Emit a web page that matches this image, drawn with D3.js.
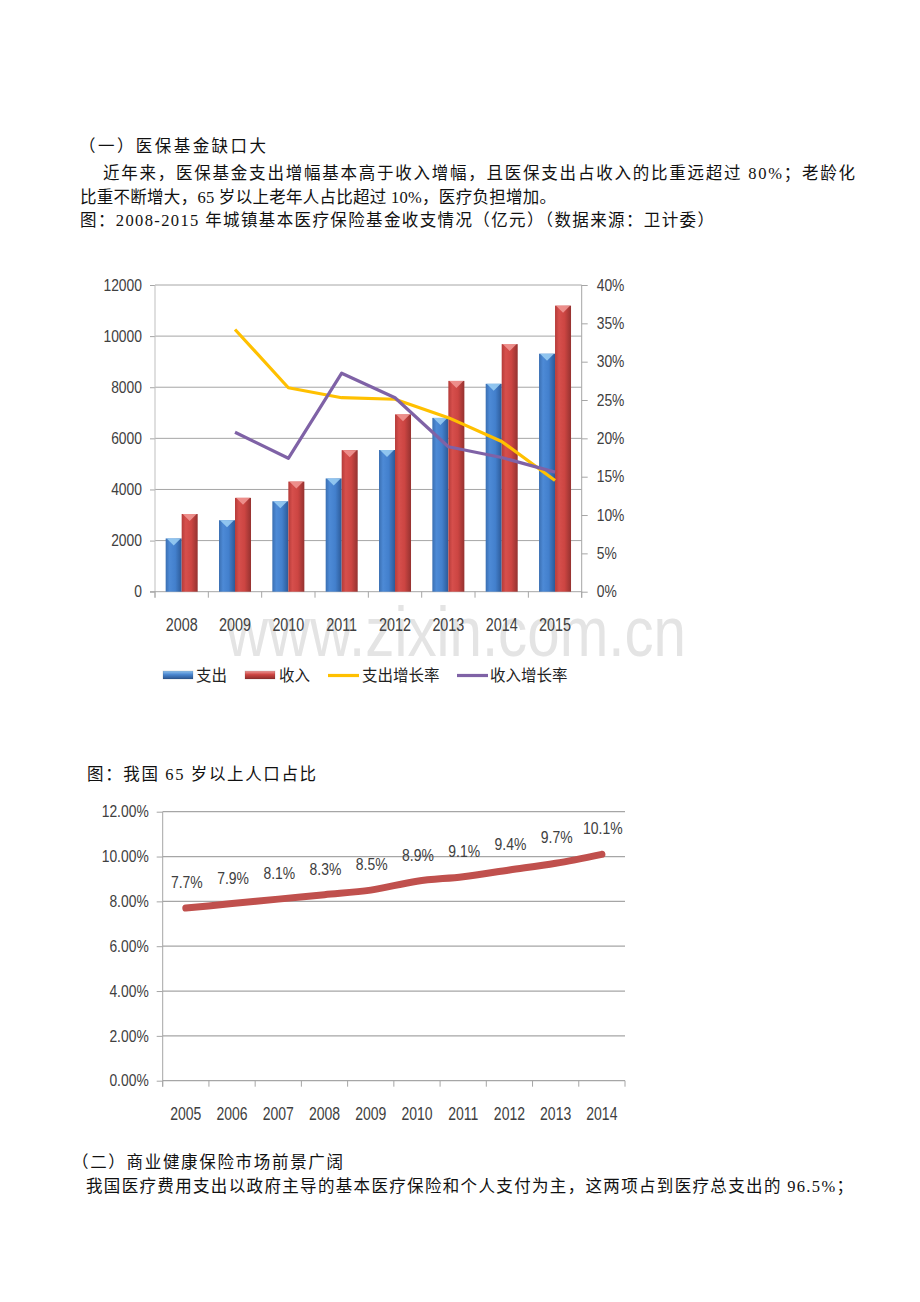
<!DOCTYPE html>
<html>
<head>
<meta charset="utf-8">
<script src="https://cdn.jsdelivr.net/npm/d3@7/dist/d3.min.js"></script>
<style>
  html, body { margin: 0; padding: 0; background: #fff; }
  svg { display: block; }
</style>
</head>
<body>
<svg id="page" width="920" height="1302"></svg>
<script>
// ---------------- DATA ----------------
const years1 = ["2008", "2009", "2010", "2011", "2012", "2013", "2014", "2015"];
const expenditure = [2084, 2797, 3538, 4431, 5544, 6801, 8134, 9312];      // 支出 (亿元)
const income = [3040, 3672, 4309, 5539, 6939, 8248, 9687, 11193];          // 收入 (亿元)
const expGrowth = [null, 34.2, 26.6, 25.3, 25.1, 22.7, 19.6, 14.5];          // 支出增长率 %
const incGrowth = [null, 20.8, 17.4, 28.5, 25.3, 18.9, 17.5, 15.6];          // 收入增长率 %
const leftTicks1 = [0, 2000, 4000, 6000, 8000, 10000, 12000];
const rightTicks1 = [0, 5, 10, 15, 20, 25, 30, 35, 40];
const legend1 = ["支出", "收入", "支出增长率", "收入增长率"];

const years2 = ["2005", "2006", "2007", "2008", "2009", "2010", "2011", "2012", "2013", "2014"];
const elderShare = [7.7, 7.9, 8.1, 8.3, 8.5, 8.9, 9.1, 9.4, 9.7, 10.1];      // 65岁以上人口占比 %
const leftTicks2 = [0, 2, 4, 6, 8, 10, 12];

const paragraphs = [
  "（一）医保基金缺口大",
  "近年来，医保基金支出增幅基本高于收入增幅，且医保支出占收入的比重远超过 80%；老龄化",
  "比重不断增大，65 岁以上老年人占比超过 10%，医疗负担增加。",
  "图：2008-2015 年城镇基本医疗保险基金收支情况（亿元）（数据来源：卫计委）",
  "图：我国 65 岁以上人口占比",
  "（二）商业健康保险市场前景广阔",
  "我国医疗费用支出以政府主导的基本医疗保险和个人支付为主，这两项占到医疗总支出的 96.5%；"
];
const watermark = "www.zixin.com.cn";

// ---------------- STYLE ----------------
const chartFont = "'Liberation Sans', Arial, sans-serif";
const cjkFont = "'Noto Sans CJK SC', sans-serif";
const bodyFont = "'Liberation Serif', 'Noto Sans CJK SC', serif";
const gridColor = "#a6a6a6";
const axisColor = "#bfbfbf";
const labelColor = "#404040";
const NARROW = 0.84;

const svg = d3.select("#page");
svg.append("rect").attr("width", 920).attr("height", 1302).attr("fill", "#fff");

// condense chart labels (Calibri-like narrow look)
function condense(sel, k) {
  sel.each(function () {
    const w = this.getComputedTextLength();
    d3.select(this).attr("textLength", w * (k || NARROW)).attr("lengthAdjust", "spacingAndGlyphs");
  });
}

// gradients
const defs = svg.append("defs");
function hGrad(id, stops) {
  const g = defs.append("linearGradient").attr("id", id).attr("x1", "0").attr("x2", "1").attr("y1", "0").attr("y2", "0");
  stops.forEach(s => g.append("stop").attr("offset", s[0]).attr("stop-color", s[1]));
}
function vGrad(id, stops) {
  const g = defs.append("linearGradient").attr("id", id).attr("x1", "0").attr("x2", "0").attr("y1", "0").attr("y2", "1");
  stops.forEach(s => g.append("stop").attr("offset", s[0]).attr("stop-color", s[1]));
}
hGrad("gBlue", [["0%", "#3a6fb2"], ["25%", "#4d8ad6"], ["60%", "#4380cd"], ["100%", "#2c5a98"]]);
hGrad("gRed", [["0%", "#b53b39"], ["25%", "#d64f4c"], ["60%", "#cc4542"], ["100%", "#953230"]]);
vGrad("lgBlue", [["0%", "#8fc1ee"], ["45%", "#4a86cf"], ["100%", "#2b5590"]]);
vGrad("lgRed", [["0%", "#f09a98"], ["45%", "#cc4542"], ["100%", "#8e2d2b"]]);

// ---------------- WATERMARK ----------------
svg.append("text")
  .attr("x", 226).attr("y", 656)
  .attr("textLength", 460).attr("lengthAdjust", "spacingAndGlyphs")
  .attr("font-family", "'Liberation Sans', sans-serif")
  .attr("font-size", 70)
  .attr("fill", "#e4e4e4")
  .text(watermark);

// ---------------- BODY TEXT ----------------
const textLayout = [
  { x: 79, y: 152, len: 187 },
  { x: 103, y: 179, len: 752 },
  { x: 80, y: 203, len: 476 },
  { x: 80, y: 226, len: 634 },
  { x: 87, y: 780, len: 229 },
  { x: 72, y: 1168, len: 271 },
  { x: 86, y: 1192, len: 767 }
];
paragraphs.forEach((t, i) => {
  const L = textLayout[i];
  svg.append("text")
    .attr("x", L.x).attr("y", L.y)
    .attr("textLength", L.len).attr("lengthAdjust", "spacing")
    .attr("font-family", bodyFont)
    .attr("font-size", 16.5)
    .attr("fill", "#111")
    .text(t);
});

// ---------------- CHART 1 ----------------
{
  const left = 155, right = 581.7, top = 285, bottom = 591.7;
  const x = d3.scaleBand().domain(years1).range([left, right]).paddingInner(0.4).paddingOuter(0.2);
  const xs = d3.scaleBand().domain(["exp", "inc"]).range([0, x.bandwidth()]);
  const y = d3.scaleLinear().domain([0, 12000]).range([bottom, top]);
  const yr = d3.scaleLinear().domain([0, 40]).range([bottom, top]);
  const step = x.step();
  const boundary = i => left + i * step;

  const g = svg.append("g");

  // gridlines
  g.selectAll("line.grid").data(leftTicks1.filter(d => d > 0)).join("line")
    .attr("x1", left).attr("x2", right)
    .attr("y1", d => y(d)).attr("y2", d => y(d))
    .attr("stroke", gridColor).attr("stroke-width", 1);

  // left axis
  const la = g.append("g").attr("transform", `translate(${left},0)`)
    .call(d3.axisLeft(y).tickValues(leftTicks1).tickSize(5).tickPadding(8).tickFormat(d3.format("d")));
  la.select(".domain").remove();
  la.selectAll(".tick line").attr("stroke", gridColor);
  la.selectAll("text").attr("font-family", chartFont).attr("font-size", 16.5).attr("fill", labelColor).call(condense);
  g.append("line").attr("x1", left).attr("x2", left).attr("y1", top).attr("y2", bottom + 6)
    .attr("stroke", axisColor);

  // right axis
  const ra = g.append("g").attr("transform", `translate(${right},0)`)
    .call(d3.axisRight(yr).tickValues(rightTicks1).tickSize(6).tickPadding(9).tickFormat(d => d + "%"));
  ra.select(".domain").remove();
  ra.selectAll(".tick line").attr("stroke", gridColor);
  ra.selectAll("text").attr("font-family", chartFont).attr("font-size", 16.5).attr("fill", labelColor).call(condense);
  g.append("line").attr("x1", right).attr("x2", right).attr("y1", top).attr("y2", bottom + 6)
    .attr("stroke", gridColor);

  // bottom axis
  g.append("line").attr("x1", left - 5).attr("x2", right).attr("y1", bottom).attr("y2", bottom)
    .attr("stroke", gridColor);
  g.selectAll("line.xt").data(d3.range(years1.length + 1)).join("line")
    .attr("x1", i => boundary(i)).attr("x2", i => boundary(i))
    .attr("y1", bottom).attr("y2", bottom + 6)
    .attr("stroke", gridColor);
  g.selectAll("text.xl").data(years1).join("text")
    .attr("class", "xl")
    .attr("x", d => x(d) + x.bandwidth() / 2).attr("y", 630.5)
    .attr("text-anchor", "middle")
    .attr("font-family", chartFont).attr("font-size", 17.5).attr("fill", labelColor)
    .text(d => d)
    .call(condense, 0.82);

  // bars
  const series = [
    { key: "exp", vals: expenditure, fill: "url(#gBlue)", cap: "#9cd0f4" },
    { key: "inc", vals: income, fill: "url(#gRed)", cap: "#f29a97" }
  ];
  series.forEach(s => {
    const bw = xs.bandwidth();
    g.selectAll(null).data(years1).join("rect")
      .attr("x", d => x(d) + xs(s.key))
      .attr("y", (d, i) => y(s.vals[i]))
      .attr("width", bw)
      .attr("height", (d, i) => bottom - y(s.vals[i]))
      .attr("fill", s.fill);
    g.selectAll(null).data(years1).join("path")
      .attr("d", (d, i) => {
        const x0 = x(d) + xs(s.key), yy = y(s.vals[i]);
        return `M${x0 + 1},${yy}L${x0 + bw - 1},${yy}L${x0 + bw / 2},${yy + 7}Z`;
      })
      .attr("fill", s.cap).attr("opacity", 0.85);
  });

  // lines
  const cx = d => x(d) + x.bandwidth() / 2;
  const lineGen = vals => d3.line()
    .defined((d, i) => vals[i] != null)
    .x(d => cx(d))
    .y((d, i) => yr(vals[i]));
  g.append("path").attr("d", lineGen(expGrowth)(years1))
    .attr("fill", "none").attr("stroke", "#ffc000").attr("stroke-width", 3.2).attr("stroke-linejoin", "round");
  g.append("path").attr("d", lineGen(incGrowth)(years1))
    .attr("fill", "none").attr("stroke", "#7f62a6").attr("stroke-width", 3.2).attr("stroke-linejoin", "round");

  // legend
  const ly = 675;
  const lg = g.append("g");
  const legendItems = [
    { type: "rect", fill: "url(#lgBlue)", sx: 163, tx: 196 },
    { type: "rect", fill: "url(#lgRed)", sx: 245, tx: 279 },
    { type: "line", stroke: "#ffc000", sx: 328, tx: 362 },
    { type: "line", stroke: "#7f62a6", sx: 457, tx: 490 }
  ];
  legendItems.forEach((it, i) => {
    if (it.type === "rect") {
      lg.append("rect").attr("x", it.sx).attr("y", ly - 4).attr("width", 30).attr("height", 8)
        .attr("fill", it.fill).attr("stroke", "#2a2a2a").attr("stroke-opacity", 0.25).attr("stroke-width", 0.5);
    } else {
      lg.append("line").attr("x1", it.sx).attr("x2", it.sx + 31).attr("y1", ly + 0.5).attr("y2", ly + 0.5)
        .attr("stroke", it.stroke).attr("stroke-width", 3.2);
    }
    lg.append("text").attr("x", it.tx).attr("y", ly + 6)
      .attr("font-family", cjkFont).attr("font-size", 15.5).attr("fill", "#222")
      .text(legend1[i]);
  });
}

// ---------------- CHART 2 ----------------
{
  const left = 162.7, right = 625, top = 811.7, bottom = 1080.7;
  const x = d3.scaleBand().domain(years2).range([left, right]).padding(0);
  const y = d3.scaleLinear().domain([0, 12]).range([bottom, top]);
  const g = svg.append("g");

  g.selectAll("line.grid").data(leftTicks2).join("line")
    .attr("x1", left).attr("x2", right)
    .attr("y1", d => y(d)).attr("y2", d => y(d))
    .attr("stroke", gridColor).attr("stroke-width", 1.2);

  const la = g.append("g").attr("transform", `translate(${left},0)`)
    .call(d3.axisLeft(y).tickValues(leftTicks2).tickSize(6).tickPadding(8).tickFormat(d => d.toFixed(2) + "%"));
  la.select(".domain").remove();
  la.selectAll(".tick line").attr("stroke", gridColor);
  la.selectAll("text").attr("font-family", chartFont).attr("font-size", 16.5).attr("fill", labelColor).call(condense);
  g.append("line").attr("x1", left).attr("x2", left).attr("y1", top).attr("y2", bottom + 6)
    .attr("stroke", gridColor);

  g.selectAll("line.xt").data(d3.range(years2.length + 1)).join("line")
    .attr("x1", i => left + i * x.step()).attr("x2", i => left + i * x.step())
    .attr("y1", bottom).attr("y2", bottom + 6)
    .attr("stroke", gridColor);
  g.selectAll("text.xl").data(years2).join("text")
    .attr("class", "xl")
    .attr("x", d => x(d) + x.bandwidth() / 2).attr("y", 1120)
    .attr("text-anchor", "middle")
    .attr("font-family", chartFont).attr("font-size", 17.5).attr("fill", labelColor)
    .text(d => d)
    .call(condense, 0.8);

  const cx = d => x(d) + x.bandwidth() / 2;
  g.append("path")
    .attr("d", d3.line().x(d => cx(d)).y((d, i) => y(elderShare[i])).curve(d3.curveMonotoneX)(years2))
    .attr("fill", "none").attr("stroke", "#c0504d").attr("stroke-width", 7).attr("stroke-linecap", "round");

  g.selectAll("text.dl").data(years2).join("text")
    .attr("class", "dl")
    .attr("x", d => cx(d) + 1)
    .attr("y", (d, i) => y(elderShare[i]) - 20)
    .attr("text-anchor", "middle")
    .attr("font-family", chartFont).attr("font-size", 17).attr("fill", labelColor)
    .text((d, i) => elderShare[i].toFixed(1) + "%")
    .call(condense, 0.82);
}
</script>
</body>
</html>
